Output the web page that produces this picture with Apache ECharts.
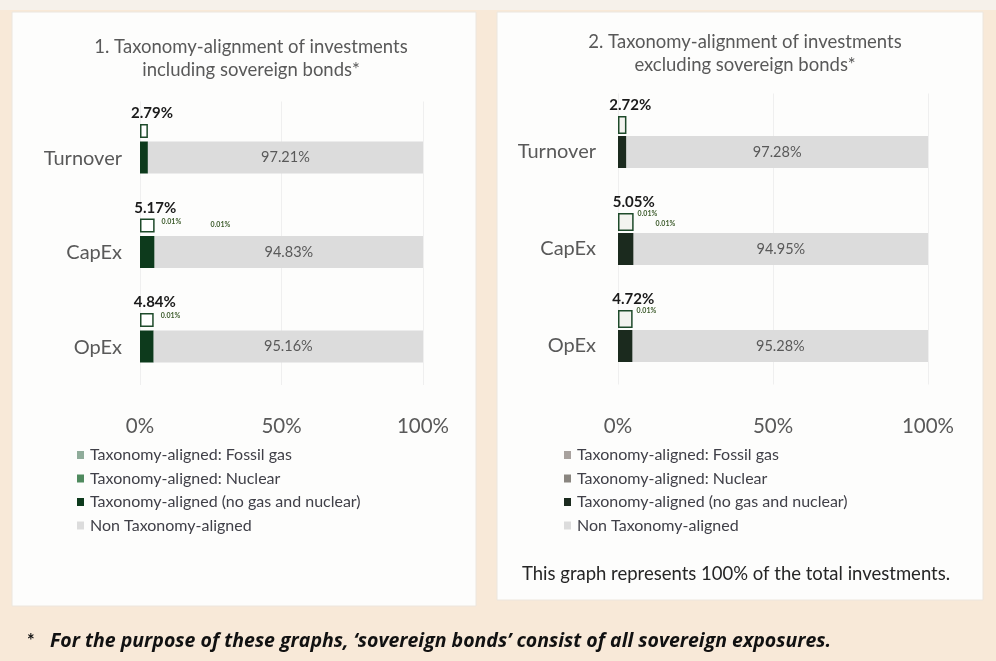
<!DOCTYPE html>
<html>
<head>
<meta charset="utf-8">
<script src="https://cdn.jsdelivr.net/npm/echarts@6/dist/echarts.min.js"></script>
<style>
html,body{margin:0;padding:0;background:#f8e9d8;}
#chart{width:996px;height:661px;}
</style>
</head>
<body>
<div id="chart"></div>
<script>
// ---- data ----
const categories = ['Turnover', 'CapEx', 'OpEx'];
const tickLabels = ['0%', '50%', '100%'];
const legendNames = ['Taxonomy-aligned: Fossil gas', 'Taxonomy-aligned: Nuclear', 'Taxonomy-aligned (no gas and nuclear)', 'Non Taxonomy-aligned'];

// Chart 1: including sovereign bonds
const alignedTotal1 = [2.79, 5.17, 4.84];
const alignedNoGasNuclear1 = [2.79, 5.15, 4.83];
const nuclear1 = [0, 0.01, 0.01];
const fossilGas1 = [0, 0.01, 0];
const nonAligned1 = [97.21, 94.83, 95.16];

// Chart 2: excluding sovereign bonds
const alignedTotal2 = [2.72, 5.05, 4.72];
const alignedNoGasNuclear2 = [2.72, 5.03, 4.71];
const nuclear2 = [0, 0.01, 0.01];
const fossilGas2 = [0, 0.01, 0];
const nonAligned2 = [97.28, 94.95, 95.28];

const title1 = '1. Taxonomy-alignment of investments\nincluding sovereign bonds*';
const title2 = '2. Taxonomy-alignment of investments\nexcluding sovereign bonds*';
const note2 = 'This graph represents 100% of the total investments.';
const footnote = 'For the purpose of these graphs, \u2018sovereign bonds\u2019 consist of all sovereign exposures.';

// ---- build ----
const FONT = 'Lato, "Open Sans", sans-serif';
const SUF = ' #2';
const chart = echarts.init(document.getElementById('chart'), null, {renderer: 'canvas'});

function pct(v) { return v.toFixed(2) + '%'; }

function makeSeries(idx, suffix, d, colors, boxW, mainW, gap, boxFill, smallPos) {
  const common = {type: 'bar', xAxisIndex: idx, yAxisIndex: idx, barGap: gap, silent: true};
  return [
    Object.assign({}, common, {
      name: 'box' + idx, stack: 'box' + idx, barWidth: boxW, data: d.total,
      itemStyle: {color: boxFill, borderColor: '#1e4a2a', borderWidth: 1.5},
      label: {show: true, position: 'top', offset: [8, 2], formatter: p => pct(p.value),
        fontFamily: FONT, fontSize: 15, fontWeight: 'bold', color: '#1a1a1a'}
    }),
    Object.assign({}, common, {
      name: legendNames[2] + suffix, stack: 'main' + idx, barWidth: mainW, data: d.aligned,
      itemStyle: {color: colors[2]}
    }),
    Object.assign({}, common, {
      name: legendNames[1] + suffix, stack: 'main' + idx, barWidth: mainW, data: d.nuclear,
      itemStyle: {color: colors[1]},
      label: {show: true, position: smallPos[0], formatter: p => p.value ? pct(p.value) : '',
        fontFamily: FONT, fontSize: 7, fontWeight: 'bold', color: '#3b5a2a'}
    }),
    Object.assign({}, common, {
      name: legendNames[0] + suffix, stack: 'main' + idx, barWidth: mainW, data: d.gas,
      itemStyle: {color: colors[0]},
      label: {show: true, position: smallPos[1], formatter: p => p.value ? pct(p.value) : '',
        fontFamily: FONT, fontSize: 7, fontWeight: 'bold', color: '#3b5a2a'}
    }),
    Object.assign({}, common, {
      name: legendNames[3] + suffix, stack: 'main' + idx, barWidth: mainW, data: d.non,
      itemStyle: {color: colors[3]},
      label: {show: true, position: 'inside', formatter: p => pct(p.value),
        fontFamily: FONT, fontSize: 14.5, color: '#595959'}
    })
  ];
}

const colors1 = ['#8fac9a', '#4f8a5e', '#0d3a1c', '#dcdcdc'];
const colors2 = ['#a8a29e', '#8a8680', '#1b2a1e', '#dcdcdc'];

const series = []
  .concat(makeSeries(0, '', {total: alignedTotal1, aligned: alignedNoGasNuclear1, nuclear: nuclear1, gas: fossilGas1, non: nonAligned1},
    colors1, 14, 32, '25%', '#ffffff', [[7, -18], [56, -15]]))
  .concat(makeSeries(1, SUF, {total: alignedTotal2, aligned: alignedNoGasNuclear2, nuclear: nuclear2, gas: fossilGas2, non: nonAligned2},
    colors2, 18, 32, '11%', '#f3f3ef', [[4, -23], [22, -13]]));

function xAxisDef(idx) {
  return {
    gridIndex: idx, type: 'value', min: 0, max: 100, interval: 50,
    axisLine: {show: false}, axisTick: {show: false},
    splitLine: {show: true, lineStyle: {color: '#efefef', width: 1}},
    axisLabel: {margin: 31, fontFamily: FONT, fontSize: 20.5, color: '#595959',
      formatter: v => tickLabels[Math.round(v / 50)]}
  };
}
function yAxisDef(idx, margin) {
  return {
    gridIndex: idx, type: 'category', data: categories, inverse: true,
    axisLine: {show: false}, axisTick: {show: false},
    axisLabel: {margin: margin, fontFamily: FONT, fontSize: 20, color: '#595959',
      verticalAlign: 'top', lineHeight: 19}
  };
}

function legendDef(left, suffix) {
  return {
    orient: 'vertical', left: left, top: 442, itemWidth: 7, itemHeight: 8, itemGap: 7.5,
    icon: 'rect', selectedMode: false,
    data: legendNames.map(n => n + suffix),
    formatter: n => n.replace(SUF, ''),
    textStyle: {fontFamily: FONT, fontSize: 16, color: '#404048', padding: [0, 0, 0, 1]}
  };
}

const option = {
  animation: false,
  backgroundColor: '#f8e9d8',
  graphic: [
    {type: 'rect', shape: {x: 0, y: 0, width: 996, height: 10}, style: {fill: '#f6f1ea'}, z: -10},
    {type: 'rect', shape: {x: 12, y: 12, width: 464, height: 594}, style: {fill: '#fdfdfc', stroke: '#ece6de', lineWidth: 1}, z: -9},
    {type: 'rect', shape: {x: 497, y: 12, width: 486, height: 588}, style: {fill: '#fdfdfc', stroke: '#ece6de', lineWidth: 1}, z: -9},
    {type: 'text', left: 522, top: 565, style: {text: note2, font: '18.5px ' + FONT, fill: '#262626'}},
    {type: 'text', left: 27, top: 632, style: {text: '*', font: 'bold 18px ' + FONT, fill: '#111'}},
    {type: 'text', left: 50, top: 631, style: {text: footnote, font: 'italic bold 19.5px "Open Sans", sans-serif', fill: '#111'}}
  ],
  title: [
    {text: title1, left: 246, top: 31, textAlign: 'center',
      textStyle: {fontFamily: FONT, fontSize: 18.5, fontWeight: 'normal', color: '#595959', lineHeight: 23, align: 'center'}},
    {text: title2, left: 740, top: 26, textAlign: 'center',
      textStyle: {fontFamily: FONT, fontSize: 18.5, fontWeight: 'normal', color: '#595959', lineHeight: 23, align: 'center'}}
  ],
  legend: [legendDef(72, ''), legendDef(559, SUF)],
  grid: [
    {left: 140, width: 283, top: 101.5, height: 283.5},
    {left: 618, width: 310, top: 93.5, height: 291}
  ],
  xAxis: [xAxisDef(0), xAxisDef(1)],
  yAxis: [yAxisDef(0, 18), yAxisDef(1, 22)],
  series: series
};
chart.setOption(option);
</script>
</body>
</html>
